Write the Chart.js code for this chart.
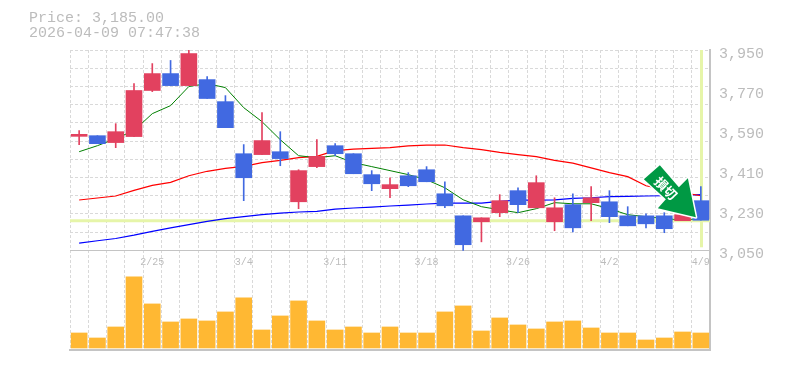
<!DOCTYPE html>
<html>
<head>
<meta charset="utf-8">
<style>html,body{margin:0;padding:0;background:#fff}canvas{display:block}</style>
<script src="https://cdn.jsdelivr.net/npm/chart.js@4"></script>
</head>
<body>
<canvas id="c" width="785" height="370"></canvas>
<script>
const titleLines = ['Price: 3,185.00', '2026-04-09 07:47:38'];
const dates = ['2/18','2/19','2/20','2/24','2/25','2/26','2/27','3/2','3/3','3/4','3/5','3/6','3/9','3/10','3/11','3/12','3/13','3/16','3/17','3/18','3/19','3/23','3/24','3/25','3/26','3/27','3/30','3/31','4/1','4/2','4/3','4/6','4/7','4/8','4/9'];
const opens  = [3562,3565,3534,3561,3768,3844,3790,3817,3718,3484,3480,3493,3268,3426,3520,3484,3390,3327,3385,3412,3304,3205,3178,3219,3318,3241,3178,3255,3264,3268,3205,3205,3205,3183,3273];
const highs  = [3588,3565,3619,3799,3889,3903,3948,3831,3745,3525,3669,3583,3412,3547,3529,3484,3408,3376,3399,3426,3358,3205,3196,3300,3331,3385,3286,3304,3336,3318,3246,3214,3219,3210,3336];
const lows   = [3525,3529,3511,3561,3763,3790,3790,3732,3601,3273,3480,3430,3237,3421,3475,3394,3318,3286,3336,3358,3241,3050,3088,3201,3219,3241,3138,3133,3183,3174,3160,3151,3129,3183,3185];
const closes = [3571,3529,3583,3768,3844,3790,3934,3732,3601,3376,3543,3462,3408,3472,3484,3394,3349,3345,3340,3358,3250,3075,3196,3273,3255,3354,3241,3151,3286,3201,3160,3169,3147,3210,3185];
const ma5  = [3493,3520,3552,3588,3664,3700,3786,3799,3781,3691,3628,3547,3475,3466,3475,3444,3426,3408,3390,3367,3331,3277,3246,3232,3219,3237,3264,3259,3259,3237,3210,3201,3192,3187,3192];
const ma25 = [3276,3285,3294,3319,3342,3355,3385,3405,3418,3427,3444,3454,3466,3472,3498,3505,3508,3511,3519,3523,3523,3511,3502,3490,3480,3471,3454,3442,3420,3399,3381,3340,3322,3309,3295];
const ma75 = [3082,3093,3103,3118,3135,3151,3165,3180,3192,3201,3210,3217,3222,3225,3235,3240,3244,3249,3253,3258,3262,3262,3262,3270,3276,3275,3277,3283,3286,3291,3292,3294,3295,3297,3300];
const volumes = [15,10,21,71,44,26,29,27,36,50,18,32,47,27,18,21,15,21,15,15,36,42,17,30,23,19,26,27,20,15,15,8,10,16,15];
const priceTicks = [3050,3230,3410,3590,3770,3950];
const lastPrice = 3185;
const signalText = '損切';

const UP = '#e2415f', DOWN = '#4169e1', GRID = '#d9d9d9', AXIS = '#c4c4c4', TXT = '#bcbcbc', HL = '#e6f5a9';
const candleColors = opens.map((o, i) => closes[i] >= o ? UP : DOWN);
const PRICE_MIN = 2602, PRICE_MAX = 3950;
const mono = '"Liberation Mono", monospace';

const highlight = {
  id: 'highlight',
  beforeDatasetsDraw(chart) {
    const { ctx, scales: { x, y }, chartArea: a } = chart;
    ctx.save();
    ctx.fillStyle = HL;
    ctx.fillRect(a.left, y.getPixelForValue(lastPrice) - 1, a.width, 3);
    const lx = x.getPixelForValue(dates.length - 1);
    ctx.fillRect(Math.round(lx) - 1, a.top, 3, y.getPixelForValue(3050) - a.top - 3);
    ctx.restore();
  },
  afterDatasetsDraw(chart) {
    const { ctx, scales: { x, y } } = chart;
    const tx = x.getPixelForValue(dates.length - 1) - 4, ty = y.getPixelForValue(lastPrice) - 3;
    const shape = [[-37,-52],[-18,-30],[-9,-39],[-1,0],[-39,-9],[-31,-18],[-53,-38]];
    ctx.save();
    ctx.beginPath();
    shape.forEach((p, i) => i ? ctx.lineTo(tx + p[0], ty + p[1]) : ctx.moveTo(tx + p[0], ty + p[1]));
    ctx.closePath();
    ctx.lineJoin = 'round';
    ctx.lineWidth = 3;
    ctx.strokeStyle = '#fff';
    ctx.stroke();
    ctx.fillStyle = '#009944';
    ctx.fill();
    ctx.translate(tx - 31, ty - 29);
    ctx.rotate(Math.PI / 4);
    ctx.fillStyle = '#fff';
    ctx.font = 'bold 13px "Noto Sans CJK JP"';
    ctx.textAlign = 'center';
    ctx.textBaseline = 'middle';
    ctx.fillText(signalText, 0, 0);
    ctx.restore();
  }
};

new Chart(document.getElementById('c'), {
  type: 'bar',
  plugins: [highlight],
  data: {
    labels: dates,
    datasets: [
      { type: 'line', data: ma75, borderColor: '#0000ff', borderWidth: 1.2, pointRadius: 0, tension: 0, order: 5, yAxisID: 'y' },
      { type: 'line', data: ma25, borderColor: '#ff0000', borderWidth: 1.2, pointRadius: 0, tension: 0, order: 4, yAxisID: 'y' },
      { type: 'line', data: ma5,  borderColor: '#008000', borderWidth: 1, pointRadius: 0, tension: 0, order: 3, yAxisID: 'y' },
      { data: lows.map((l, i) => [l, highs[i]]), backgroundColor: candleColors, barThickness: 1, grouped: false, order: 2, yAxisID: 'y' },
      { data: opens.map((o, i) => [o, closes[i]]), backgroundColor: candleColors, barThickness: 16, grouped: false, order: 1, yAxisID: 'y' },
      { data: volumes, backgroundColor: '#ffb833', barThickness: 16, grouped: false, order: 6, yAxisID: 'vol' }
    ]
  },
  options: {
    responsive: false,
    animation: false,
    events: [],
    layout: { padding: { top: 11, left: 29, right: 0, bottom: 0 } },
    plugins: {
      legend: { display: false },
      tooltip: { enabled: false },
      title: {
        display: true, text: titleLines, align: 'start', color: TXT,
        font: { family: mono, size: 15, weight: 'normal', lineHeight: 1 },
        padding: { top: 0, bottom: 9 }
      }
    },
    scales: {
      x: {
        type: 'category', offset: true,
        position: { y: 3050 },
        grid: { offset: true, color: GRID, lineWidth: 1, drawTicks: false },
        border: { display: true, color: AXIS, width: 1, dash: [3, 2] },
        ticks: {
          autoSkip: false, maxRotation: 0, minRotation: 0, padding: 6, color: TXT,
          font: { family: mono, size: 10 },
          callback: (v, i) => (i % 5 === 4 ? dates[i] : '')
        }
      },
      x2: {
        type: 'category', position: 'bottom', labels: dates,
        grid: { display: false },
        border: { display: true, color: AXIS, width: 2 },
        ticks: { display: false },
        afterFit(s) { s.height = 20; }
      },
      gridY: {
        type: 'linear', position: 'left', min: PRICE_MIN, max: PRICE_MAX,
        grid: { color: GRID, lineWidth: 1, drawTicks: false },
        border: { display: false, dash: [3, 2] },
        ticks: { display: false },
        afterBuildTicks(s) { s.ticks = Array.from({ length: 12 }, (_, i) => ({ value: PRICE_MAX - i * 900 / 11 })); },
        afterFit(s) { s.width = 41; }
      },
      y: {
        type: 'linear', position: 'right', min: PRICE_MIN, max: PRICE_MAX,
        grid: { display: false },
        border: { display: true, color: AXIS, width: 2 },
        ticks: {
          padding: 1, color: TXT, labelOffset: 4, autoSkip: false,
          font: { family: mono, size: 15 },
          callback: v => v.toLocaleString('en-US')
        },
        afterBuildTicks(s) { s.ticks = priceTicks.map(v => ({ value: v })); },
        afterFit(s) { s.width = 75; }
      },
      vol: { type: 'linear', display: false, min: -2, max: 297.5 }
    }
  }
});
</script>
</body>
</html>
